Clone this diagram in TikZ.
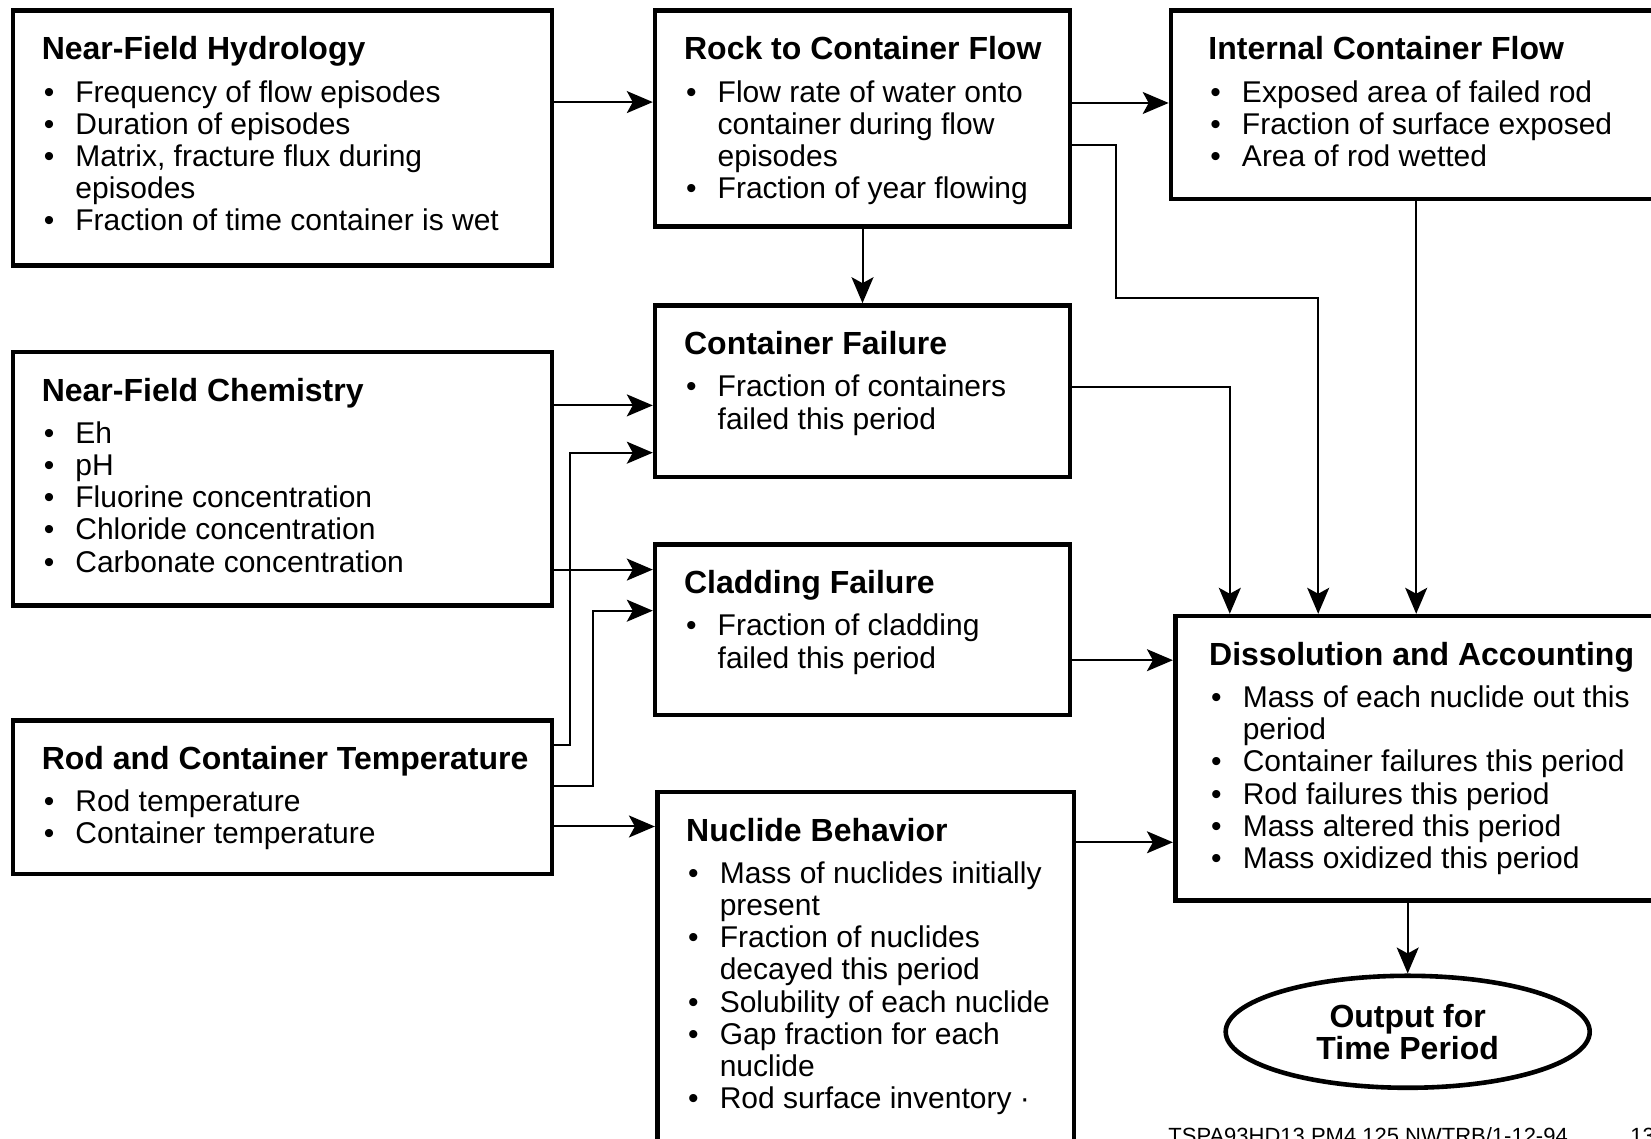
\documentclass[tikz,border=0pt]{standalone}
\usepackage{fontspec}
\setmainfont{Liberation Sans}
\usetikzlibrary{arrows.meta,shapes.geometric}

\newlength\pxunit \setlength\pxunit{0.5pt}
% box contents: [left pad], width, height (in px), text
\newcommand\panel[4][14.5pt]{\parbox[c][#3\pxunit][t]{#2\pxunit}{%
  \vspace*{13pt}\leftskip=#1\rightskip=0pt plus 1fil\parindent=0pt
  \fontsize{15}{16.1}\selectfont #4\par}}
\newcommand\ttl[1]{{\fontsize{16}{16.1}\selectfont\bfseries #1\par}\vspace{5pt}}
\newcommand\itm{\par\hangindent=16.8pt\hangafter=1\noindent\makebox[16.8pt][l]{\hspace{1pt}\textbullet}}

\tikzset{
  block/.style={draw, line width=2.3pt, inner sep=0pt, anchor=north west},
  outbox/.style={draw, ellipse, line width=2.3pt, inner sep=0pt, minimum width=182pt,
    minimum height=56pt, align=center, font=\fontsize{16}{16}\selectfont\bfseries},
  arr/.style={line width=1pt, -{Stealth[length=13pt,width=11pt,inset=3pt]}},
  note/.style={anchor=base west, inner sep=0pt, font=\fontsize{11}{13}\selectfont}
}

\begin{document}
\begin{tikzpicture}[x=0.5pt,y=0.5pt]
\useasboundingbox (0,0) rectangle (1651,1139);

\node[block] (hydro) at (10.5,1130.6) {\panel{539}{254.8}{\ttl{Near-Field Hydrology}%
  \itm Frequency of flow episodes \itm Duration of episodes
  \itm Matrix, fracture flux during\\episodes \itm Fraction of time container is wet}};
\node[block] (rockflow) at (652.8,1130.6) {\panel{414.8}{215.9}{\ttl{Rock to Container Flow}%
  \itm Flow rate of water onto\\container during flow\\episodes \itm Fraction of year flowing}};
\node[block] (intflow) at (1168.7,1130.6) {\panel[18.7pt]{500}{188.5}{\ttl{Internal Container Flow}%
  \itm Exposed area of failed rod \itm Fraction of surface exposed \itm Area of rod wetted}};
\node[block] (contfail) at (652.8,835.8) {\panel{414.8}{171.7}{\ttl{Container Failure}%
  \itm Fraction of containers\\failed this period}};
\node[block] (chem) at (10.5,789.4) {\panel{539}{253.7}{\ttl{Near-Field Chemistry}%
  \itm Eh \itm pH \itm Fluorine concentration \itm Chloride concentration
  \itm Carbonate concentration}};
\node[block] (cladfail) at (652.8,596.8) {\panel{414.8}{170.6}{\ttl{Cladding Failure}%
  \itm Fraction of cladding\\failed this period}};
\node[block] (rodtemp) at (10.5,420.9) {\panel{539}{153.7}{\ttl{Rod and Container Temperature}%
  \itm Rod temperature \itm Container temperature}};
\node[block] (nuclide) at (654.9,349.3) {\panel{416.9}{375}{\ttl{Nuclide Behavior}%
  \itm Mass of nuclides initially\\present \itm Fraction of nuclides\\decayed this period
  \itm Solubility of each nuclide \itm Gap fraction for each\\nuclide
  \itm Rod surface inventory \textperiodcentered}};
\node[block] (dissol) at (1172.9,525.2) {\panel[17pt]{500}{284.3}{\ttl{Dissolution and Accounting}%
  \itm Mass of each nuclide out this\\period \itm Container failures this period
  \itm Rod failures this period \itm Mass altered this period \itm Mass oxidized this period}};
\node[outbox] (output) at (1407.7,107.2) {Output for\\Time Period};

\node[note] (docref) at (1168,-4.7) {TSPA93HD13.PM4.125 NWTRB/1-12-94};
\node[note] (pagenum) at (1630,-4.7) {13};

% connectors
\draw[arr] (hydro.east |- 0,1036.9) -- (rockflow.west |- 0,1036.9);
\draw[arr] (rockflow.east |- 0,1036) -- (intflow.west |- 0,1036);
\draw[arr] (rockflow.south) -- (contfail.north);
\draw[arr] (rockflow.east |- 0,993.7) -| (1116.1,841) -| (dissol.north -| 1318.2,0);
\draw[arr] (contfail.east |- 0,751.5) -| (dissol.north -| 1229.8,0);
\draw[arr] (intflow.south -| 1416.2,0) -- (dissol.north -| 1416.2,0);
\draw[arr] (chem.east |- 0,733.6) -- (contfail.west |- 0,733.6);
\draw[arr] (chem.east |- 0,569.4) -- (cladfail.west |- 0,569.4);
\draw[arr] (rodtemp.east |- 0,393.5) -| (569.6,686.3) -- (contfail.west |- 0,686.3);
\draw[arr] (rodtemp.east |- 0,352.5) -| (592.8,528.3) -- (cladfail.west |- 0,528.3);
\draw[arr] (rodtemp.east |- 0,312.5) -- (nuclide.west |- 0,312.5);
\draw[arr] (cladfail.east |- 0,478.8) -- (dissol.west |- 0,478.8);
\draw[arr] (nuclide.east |- 0,296.7) -- (dissol.west |- 0,296.7);
\draw[arr] (dissol.south -| output.north) -- (output.north);
\end{tikzpicture}
\end{document}
